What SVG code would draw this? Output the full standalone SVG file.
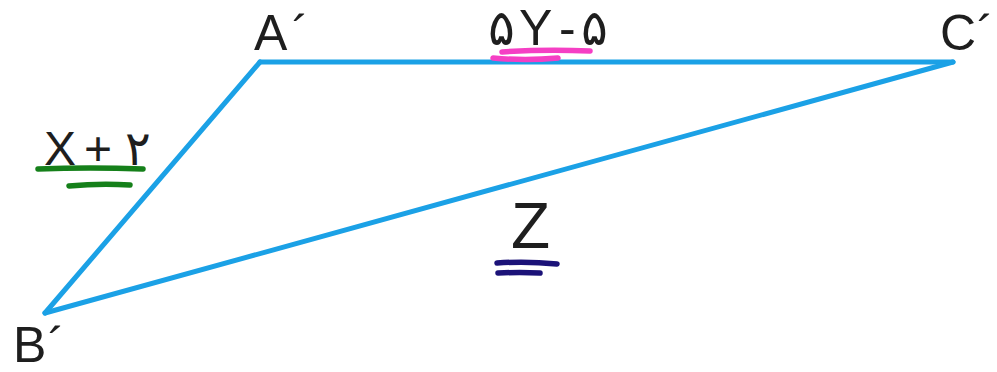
<svg xmlns="http://www.w3.org/2000/svg" width="997" height="372" viewBox="0 0 997 372">
  <style>
    .lbl { font-family: "Liberation Sans", "DejaVu Sans", sans-serif; fill: #1e1e1e; }
    .v { font-size: 50px; }
    .edge { stroke: #1ba1e6; stroke-width: 5; fill: none; stroke-linecap: round; stroke-linejoin: round; }
    .mark { fill: none; stroke-width: 5.5; stroke-linecap: round; }
  </style>
  <rect width="997" height="372" fill="#ffffff"/>
  <g id="connectors">
    <line class="edge" x1="260" y1="62" x2="953" y2="62"/>
    <line class="edge" x1="953" y1="62" x2="45" y2="313"/>
    <line class="edge" x1="260" y1="62" x2="45" y2="313"/>
  </g>
  <g id="node-A">
    <text class="lbl v" x="254" y="50">A</text>
    <text class="lbl" x="292" y="50" font-size="50">´</text>
  </g>
  <g id="node-C">
    <text class="lbl v" x="940" y="50">C</text>
    <text class="lbl" x="977" y="50" font-size="50">´</text>
  </g>
  <g id="node-B">
    <text class="lbl v" x="13" y="362">B</text>
    <text class="lbl" x="48" y="362" font-size="50">´</text>
  </g>
  <g id="label-AC">
    <text class="lbl" font-size="50" y="45"><tspan x="488">۵</tspan><tspan x="519">Y</tspan><tspan x="559">-</tspan><tspan x="581">۵</tspan></text>
    <path class="mark" stroke="#f53fc4" d="M502 52 Q545 49 590 51 M493 58 Q525 61 558 58"/>
  </g>
  <g id="label-AB">
    <text class="lbl" font-size="48" y="165"><tspan x="44">X</tspan><tspan x="84">+</tspan><tspan x="125">۲</tspan></text>
    <path class="mark" stroke="#15801a" d="M38 169 Q90 167 143 169 M69 186 Q100 183 130 185"/>
  </g>
  <g id="label-BC">
    <text class="lbl" font-size="64" x="511" y="248">Z</text>
    <path class="mark" stroke="#1b1278" d="M497 263 Q527 261 557 264 M498 273 Q520 272 540 273"/>
  </g>
</svg>
